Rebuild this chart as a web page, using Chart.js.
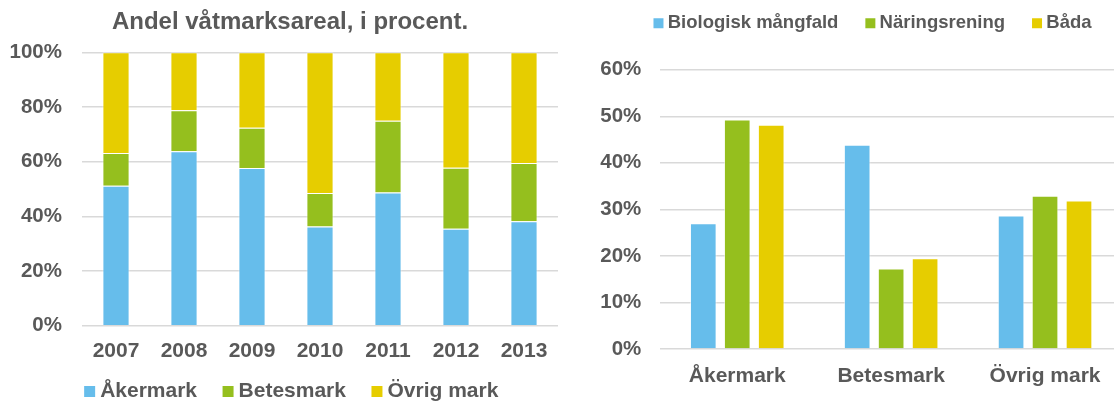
<!DOCTYPE html>
<html>
<head>
<meta charset="utf-8">
<script src="https://cdn.jsdelivr.net/npm/chart.js@4/dist/chart.umd.min.js"></script>
<style>
html,body{margin:0;padding:0;background:#fff;width:1114px;height:403px;overflow:hidden;position:relative;}
#c1{position:absolute;left:0;top:0;}
#c2{position:absolute;left:580px;top:-18px;}
</style>
</head>
<body>
<canvas id="c1" width="580" height="412"></canvas>
<canvas id="c2" width="580" height="421"></canvas>
<script>
// ---- Left chart data (share of wetland area, %) ----
const years = ['2007','2008','2009','2010','2011','2012','2013'];
const akermark = [51.2, 63.8, 57.7, 36.3, 48.7, 35.5, 38.2];
const betesmark = [12.0, 15.0, 14.7, 12.2, 26.3, 22.3, 21.3];
const ovrigMark = [36.8, 21.2, 27.6, 51.5, 25.0, 42.2, 40.5];
const leftTitle = 'Andel våtmarksareal, i procent.';
const leftSeriesNames = ['Åkermark', 'Betesmark', 'Övrig mark'];

// ---- Right chart data (%) ----
const landTypes = ['Åkermark', 'Betesmark', 'Övrig mark'];
const biologisk = [27.0, 43.9, 28.7];
const naringsrening = [49.3, 17.3, 32.9];
const bada = [48.2, 19.5, 31.9];
const rightSeriesNames = ['Biologisk mångfald', 'Näringsrening', 'Båda'];

// ---- Styles ----
const BLUE = '#66BDEB', GREEN = '#95BF1E', YELLOW = '#E6CD00';
const TEXT = '#595959', GRID = '#D9D9D9';
const FAM = '"Liberation Sans", Arial, sans-serif';
const BORDER = 'rgba(255,255,255,0.55)';

Chart.defaults.font.family = FAM;
Chart.defaults.font.weight = 'bold';
Chart.defaults.color = TEXT;

function legendLabels(chart) {
  return Chart.defaults.plugins.legend.labels.generateLabels(chart)
    .map(l => Object.assign({}, l, {lineWidth: 0, strokeStyle: 'rgba(0,0,0,0)'}));
}

// lets the x tick labels draw below the axis box (no clipping) and nudges the legend row
function layoutTweak(legendShift) {
  return {
    id: 'layoutTweak',
    afterLayout(chart) {
      chart.scales.x.bottom = chart.height;
      if (chart.legend) { chart.legend.left += legendShift; chart.legend.right += legendShift; }
    }
  };
}

// ---- Left stacked chart ----
new Chart(document.getElementById('c1'), {
  type: 'bar',
  data: {
    labels: years,
    datasets: [
      {label: leftSeriesNames[0], data: akermark, backgroundColor: BLUE},
      {label: leftSeriesNames[1], data: betesmark, backgroundColor: GREEN},
      {label: leftSeriesNames[2], data: ovrigMark, backgroundColor: YELLOW}
    ].map(d => Object.assign(d, {borderColor: BORDER, borderWidth: 1, categoryPercentage: 1, barPercentage: 0.4}))
  },
  plugins: [layoutTweak(4)],
  options: {
    responsive: false,
    animation: false,
    layout: {padding: 0},
    plugins: {
      tooltip: {enabled: false},
      title: {
        display: true, text: leftTitle, color: TEXT,
        font: {size: 24, weight: 'bold', family: FAM},
        padding: {top: 8, bottom: 15.5}
      },
      legend: {
        position: 'bottom',
        labels: {
          usePointStyle: true, pointStyle: 'rect', boxWidth: 0.01, boxHeight: 11,
          padding: 31, color: TEXT, font: {size: 21, weight: 'bold', family: FAM},
          generateLabels: legendLabels
        }
      }
    },
    scales: {
      x: {
        stacked: true,
        grid: {display: false, drawTicks: false},
        border: {display: false},
        ticks: {padding: 13, color: TEXT, font: {size: 21, weight: 'bold', family: FAM}},
        afterFit: s => { s.height = 24.3; s.paddingRight = 22; }
      },
      y: {
        stacked: true, min: 0, max: 100,
        grid: {color: GRID, lineWidth: 1.5, drawTicks: false},
        border: {display: false},
        ticks: {stepSize: 20, padding: 20, color: TEXT, font: {size: 20.5, weight: 'bold', family: FAM},
          callback: v => v + '%'},
        afterFit: s => { s.width = 82; }
      }
    }
  }
});

// ---- Right grouped chart ----
new Chart(document.getElementById('c2'), {
  type: 'bar',
  data: {
    labels: landTypes,
    datasets: [
      {label: rightSeriesNames[0], data: biologisk, backgroundColor: BLUE},
      {label: rightSeriesNames[1], data: naringsrening, backgroundColor: GREEN},
      {label: rightSeriesNames[2], data: bada, backgroundColor: YELLOW}
    ].map(d => Object.assign(d, {borderColor: BORDER, borderWidth: 1, categoryPercentage: 0.662, barPercentage: 0.785}))
  },
  plugins: [layoutTweak(5)],
  options: {
    responsive: false,
    animation: false,
    layout: {padding: 0},
    plugins: {
      tooltip: {enabled: false},
      // empty spacer between the legend and the plot
      title: {display: true, text: '', weight: 500, font: {size: 10}, padding: {top: 15.2, bottom: 0}},
      legend: {
        position: 'top',
        labels: {
          usePointStyle: true, pointStyle: 'rect', boxWidth: 0.01, boxHeight: 10,
          padding: 32, color: TEXT, font: {size: 18.5, weight: 'bold', family: FAM},
          generateLabels: legendLabels
        }
      }
    },
    scales: {
      x: {
        grid: {display: false, drawTicks: false},
        border: {display: false},
        ticks: {padding: 15, color: TEXT, font: {size: 21, weight: 'bold', family: FAM}},
        afterFit: s => { s.height = 54; s.paddingRight = 38; }
      },
      y: {
        min: 0, max: 60,
        grid: {color: GRID, lineWidth: 1.5, drawTicks: false},
        border: {display: false},
        ticks: {stepSize: 10, padding: 19, color: TEXT, font: {size: 20.5, weight: 'bold', family: FAM},
          callback: v => v + '%'},
        afterFit: s => { s.width = 80.3; }
      }
    }
  }
});
</script>
</body>
</html>
